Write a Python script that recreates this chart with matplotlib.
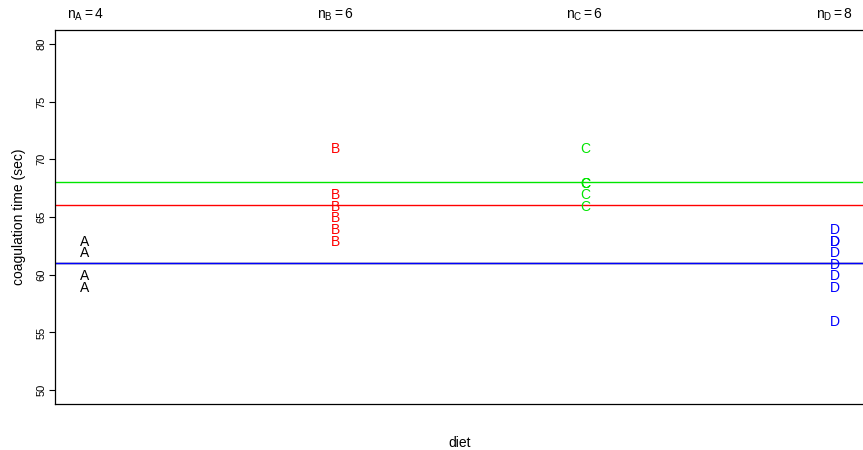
import matplotlib
matplotlib.use("Agg")
import matplotlib.pyplot as plt

plt.rcParams['font.family'] = ['Liberation Sans', 'DejaVu Sans']
plt.rcParams['mathtext.fontset'] = 'custom'
plt.rcParams['mathtext.rm'] = 'Liberation Sans'
plt.rcParams['mathtext.it'] = 'Liberation Sans'

# coagulation data
diets = ['A', 'B', 'C', 'D']
times_A = [62, 60, 63, 59]
times_B = [63, 67, 71, 64, 65, 66]
times_C = [68, 66, 71, 67, 68, 68]
times_D = [56, 62, 60, 61, 63, 64, 63, 59]
colors = ['black', '#FF0000', '#00E600', '#0000FF']

groups = [times_A, times_B, times_C, times_D]

fig = plt.figure(figsize=(8.63, 4.5), dpi=100)
ax = fig.add_axes([55/863, 1-404/450, 810/863, 374/450])

for i, (d, vals, c) in enumerate(zip(diets, groups, colors)):
    for v in vals:
        ax.text(i+1, v, d, color=c, ha='center', va='center_baseline', fontsize=10)
for i, (vals, c) in enumerate(zip(groups, colors)):
    ax.axhline(sum(vals)/len(vals), color=c, lw=1)

ax.set_xlim(0.88, 4.12)
ax.set_ylim(48.8, 81.2)
ax.set_yticks([50, 55, 60, 65, 70, 75, 80])
ax.tick_params(axis='y', labelsize=8, length=4, labelrotation=90, pad=2)
for t in ax.get_yticklabels():
    t.set_va('center')
ax.set_xticks([1, 2, 3, 4])
ax.set_xticklabels([r'$\mathrm{n_{%s} = %d}$' % (d, len(g)) for d, g in zip(diets, groups)])
ax.tick_params(axis='x', top=True, labeltop=True, bottom=False, labelbottom=False,
               length=0, pad=5, labelsize=10)
ax.spines['right'].set_visible(False)
for s in ['left', 'top', 'bottom']:
    ax.spines[s].set_linewidth(0.9)

ax.set_ylabel('coagulation time (sec)', fontsize=10, labelpad=8)
ax.text(0.5, -0.105, 'diet', transform=ax.transAxes, ha='center', va='center', fontsize=10)

fig.savefig('out.png', dpi=100)
